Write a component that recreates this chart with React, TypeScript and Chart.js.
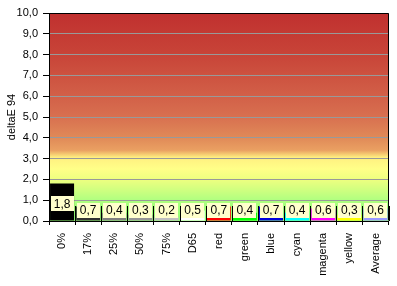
import React, { useEffect, useRef } from "react";
import { Chart, registerables } from "chart.js";

Chart.register(...registerables);

const categories = ["0%", "17%", "25%", "50%", "75%", "D65", "red", "green", "blue", "cyan", "magenta", "yellow", "Average"];
const deltaE = [1.8, 0.7, 0.4, 0.3, 0.2, 0.5, 0.7, 0.4, 0.7, 0.4, 0.6, 0.3, 0.6];
const barColors = ["#000000", "#333333", "#808080", "#969696", "#c0c0c0", "#ffffff", "#ff0000", "#00ff00", "#0000dd", "#00ffff", "#ff00ff", "#ffff00", "#9999ff"];
const yTicks = [0, 1, 2, 3, 4, 5, 6, 7, 8, 9, 10];
const axisTitle = "deltaE 94";

// background gradient stops: [value, colour]
const bgStops: [number, string][] = [
  [10, "#c0302f"],
  [8, "#c84438"],
  [6, "#d26048"],
  [5, "#d87050"],
  [4, "#e08a58"],
  [3.4, "#eaa062"],
  [3.05, "#fff080"],
  [2.5, "#ffff88"],
  [2.0, "#eeff80"],
  [1.5, "#d0ff80"],
  [1.0, "#b0ff80"],
  [0.5, "#9cff78"],
  [0, "#94ff74"],
];

const FONT = "'Liberation Sans', Arial, sans-serif";
const fmt = (v: number) => v.toFixed(1).replace(".", ",");

const bgPlugin = {
  id: "bgGradient",
  beforeDraw(chart: any) {
    const { ctx, chartArea } = chart;
    const y = chart.scales.y;
    const top = y.getPixelForValue(10);
    const bot = y.getPixelForValue(0);
    const g = ctx.createLinearGradient(0, top, 0, bot);
    bgStops.forEach(([v, c]) => g.addColorStop((10 - v) / 10, c));
    ctx.save();
    ctx.fillStyle = g;
    ctx.fillRect(chartArea.left, chartArea.top, chartArea.right - chartArea.left, chartArea.bottom - chartArea.top);
    ctx.restore();
  },
};

const labelPlugin = {
  id: "boxLabels",
  afterDatasetsDraw(chart: any) {
    const { ctx, chartArea } = chart;
    const y = chart.scales.y;
    const base = y.getPixelForValue(0);
    const meta = chart.getDatasetMeta(0);
    const n = categories.length;
    const catW = (chartArea.right - chartArea.left) / n;
    ctx.save();
    // vertical separators
    ctx.strokeStyle = "#000";
    ctx.lineWidth = 1;
    for (let i = 1; i <= n; i++) {
      const x = Math.round(chartArea.left + i * catW) + 0.5;
      ctx.beginPath();
      ctx.moveTo(x, base - 15);
      ctx.lineTo(x, base);
      ctx.stroke();
    }
    ctx.font = `12px ${FONT}`;
    ctx.textAlign = "center";
    ctx.textBaseline = "middle";
    meta.data.forEach((bar: any, i: number) => {
      const v = deltaE[i];
      const cy = Math.min(y.getPixelForValue(v / 2) + 1.5, base - 11);
      const w = 23;
      const h = 15;
      ctx.fillStyle = "#ffffcc";
      ctx.fillRect(Math.round(bar.x - w / 2), Math.round(cy - h / 2), w, h);
      ctx.fillStyle = "#000";
      ctx.fillText(fmt(v), bar.x, cy + 0.5);
    });
    ctx.restore();
  },
  afterDraw(chart: any) {
    const { ctx, chartArea } = chart;
    ctx.save();
    ctx.strokeStyle = "#000";
    ctx.lineWidth = 1;
    const l = Math.round(chartArea.left) + 0.5;
    const r = Math.round(chartArea.right) - 0.5;
    const t = Math.round(chartArea.top) + 0.5;
    const b = Math.round(chartArea.bottom) - 0.5;
    ctx.beginPath();
    ctx.moveTo(l, t);
    ctx.lineTo(r, t);
    ctx.lineTo(r, b);
    ctx.stroke();
    ctx.restore();
  },
};

export default function App() {
  const ref = useRef<HTMLCanvasElement>(null);
  useEffect(() => {
    if (!ref.current) return;
    const chart = new Chart(ref.current, {
      type: "bar",
      data: {
        labels: categories,
        datasets: [
          {
            data: deltaE,
            backgroundColor: barColors,
            borderWidth: 0,
            categoryPercentage: 1,
            barPercentage: 0.92,
          },
        ],
      },
      options: {
        animation: false,
        responsive: true,
        maintainAspectRatio: false,
        layout: { padding: { top: 13, right: 7, left: 0, bottom: 0 } },
        plugins: { legend: { display: false }, tooltip: { enabled: false } },
        scales: {
          x: {
            grid: { drawOnChartArea: false, tickLength: 4, tickColor: "#000", offset: true },
            border: { color: "#000", width: 1 },
            ticks: {
              color: "#000",
              font: { family: FONT, size: 11 },
              minRotation: 90,
              maxRotation: 90,
              autoSkip: false,
              padding: 8,
            },
            afterFit: (s: any) => {
              s.height = 65;
            },
          },
          y: {
            min: 0,
            max: 10,
            afterBuildTicks: (s: any) => {
              s.ticks = yTicks.map((v) => ({ value: v }));
            },
            grid: { color: "#999999", tickLength: 6, tickColor: "#000" },
            border: { color: "#000", width: 1 },
            ticks: {
              color: "#000",
              font: { family: FONT, size: 11 },
              padding: 5,
              callback: (v: any) => fmt(Number(v)),
            },
            title: {
              display: true,
              text: axisTitle,
              color: "#000",
              font: { family: FONT, size: 11 },
              padding: { top: 5, bottom: 0 },
            },
            afterFit: (s: any) => {
              s.width = 49;
            },
          },
        },
      },
      plugins: [bgPlugin, labelPlugin],
    });
    return () => chart.destroy();
  }, []);
  return (
    <div style={{ position: "absolute", left: 0, top: 0, width: 397, height: 286, background: "#fff" }}>
      <canvas ref={ref} />
    </div>
  );
}
